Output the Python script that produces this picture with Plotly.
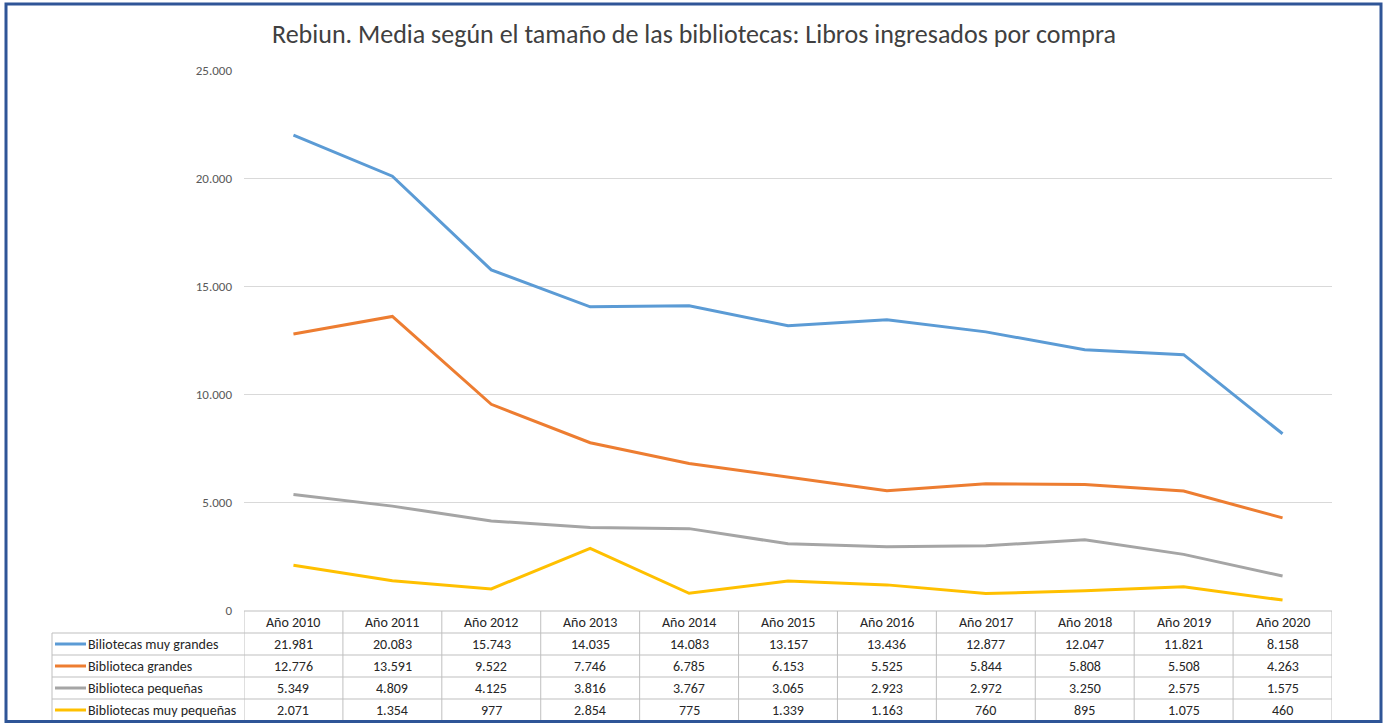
import plotly.graph_objects as go

# ---------------- data ----------------
years = ["Año 2010", "Año 2011", "Año 2012", "Año 2013", "Año 2014", "Año 2015",
         "Año 2016", "Año 2017", "Año 2018", "Año 2019", "Año 2020"]
series_names = ["Biliotecas muy grandes", "Biblioteca grandes",
                "Biblioteca pequeñas", "Bibliotecas muy pequeñas"]
muy_grandes = [21981, 20083, 15743, 14035, 14083, 13157, 13436, 12877, 12047, 11821, 8158]
grandes = [12776, 13591, 9522, 7746, 6785, 6153, 5525, 5844, 5808, 5508, 4263]
pequenas = [5349, 4809, 4125, 3816, 3767, 3065, 2923, 2972, 3250, 2575, 1575]
muy_pequenas = [2071, 1354, 977, 2854, 775, 1339, 1163, 760, 895, 1075, 460]
y_ticks = [0, 5000, 10000, 15000, 20000, 25000]
title_text = "Rebiun. Media según el tamaño de las bibliotecas: Libros ingresados por compra"

# ---------------- styles ----------------
series_values = [muy_grandes, grandes, pequenas, muy_pequenas]
colors = ["#5B9BD5", "#ED7D31", "#A5A5A5", "#FFC000"]
W, H = 1386, 723
FONT = "Calibri, Carlito, Lato, sans-serif"
TXT = 14


def px(x):
    return x / W


def py(y):
    return 1 - y / H


def fmt(v):
    return f"{v:,}".replace(",", ".")


fig = go.Figure()
for name, vals, col in zip(series_names, series_values, colors):
    fig.add_trace(go.Scatter(x=list(range(len(years))), y=vals, name=name, mode="lines",
                             line=dict(color=col, width=3), showlegend=False))

shapes = []
annotations = []

# table geometry (pixels)
row_edges = [611, 633, 655, 677, 699, 721]
left_col = 52
grid_col = "#BFBFBF"

shapes.append(dict(type="line", xref="x", yref="paper", x0=-0.5, x1=len(years) - 0.5,
                   y0=py(row_edges[0]), y1=py(row_edges[0]), line=dict(color=grid_col, width=1)))
for yy in row_edges[1:]:
    shapes.append(dict(type="line", xref="paper", yref="paper", x0=px(left_col), x1=px(1332),
                       y0=py(yy), y1=py(yy), line=dict(color=grid_col, width=1)))
for i in range(len(years) + 1):
    shapes.append(dict(type="line", xref="x", yref="paper", x0=i - 0.5, x1=i - 0.5,
                       y0=py(row_edges[0]), y1=py(row_edges[-1]), line=dict(color=grid_col, width=1)))
shapes.append(dict(type="line", xref="paper", yref="paper", x0=px(left_col), x1=px(left_col),
                   y0=py(row_edges[1]), y1=py(row_edges[-1]), line=dict(color=grid_col, width=1)))

for i, yr in enumerate(years):
    annotations.append(dict(x=i, y=py((row_edges[0] + row_edges[1]) / 2), xref="x", yref="paper",
                            text=yr, showarrow=False, font=dict(family=FONT, size=TXT, color="#262626"),
                            xanchor="center", yanchor="middle"))
for r, (name, vals, col) in enumerate(zip(series_names, series_values, colors)):
    yc = py((row_edges[r + 1] + row_edges[r + 2]) / 2)
    shapes.append(dict(type="line", xref="paper", yref="paper", x0=px(55), x1=px(86),
                       y0=yc, y1=yc, line=dict(color=col, width=3)))
    annotations.append(dict(x=px(86), y=yc, xref="paper", yref="paper", text=name, showarrow=False,
                            font=dict(family=FONT, size=TXT, color="#262626"),
                            xanchor="left", yanchor="middle"))
    for i, v in enumerate(vals):
        annotations.append(dict(x=i, y=yc, xref="x", yref="paper", text=fmt(v), showarrow=False,
                                font=dict(family=FONT, size=TXT, color="#262626"),
                                xanchor="center", yanchor="middle"))

# chart border
shapes.append(dict(type="rect", xref="paper", yref="paper", x0=px(6), x1=px(1381),
                   y0=py(721.5), y1=py(4), line=dict(color="#2F5597", width=3)))

fig.update_layout(
    width=W, height=H,
    margin=dict(l=0, r=0, t=0, b=0, pad=0, autoexpand=False),
    paper_bgcolor="white", plot_bgcolor="white",
    separators=",.",
    title=dict(text=title_text, x=694 / W, xanchor="center", y=py(34), yanchor="middle",
               font=dict(family=FONT, size=26, color="#404040")),
    xaxis=dict(domain=[px(244), px(1332)], range=[-0.5, len(years) - 0.5], showgrid=False,
               zeroline=False, showticklabels=False, ticks="", showline=False, automargin=False),
    yaxis=dict(domain=[py(610), py(70)], range=[0, 25000], tickvals=y_ticks, tickformat=",d",
               showgrid=True, gridcolor="#D9D9D9", gridwidth=1, zeroline=False, showline=False,
               ticks="", ticklabelstandoff=11, automargin=False,
               tickfont=dict(family=FONT, size=13, color="#595959")),
    shapes=shapes, annotations=annotations,
)

fig.write_html("out.html", config={"displayModeBar": False},
               post_script="document.body.style.margin='0';document.body.style.padding='0';"
                           "document.body.style.overflow='hidden';"
                           "document.documentElement.style.overflow='hidden';")
